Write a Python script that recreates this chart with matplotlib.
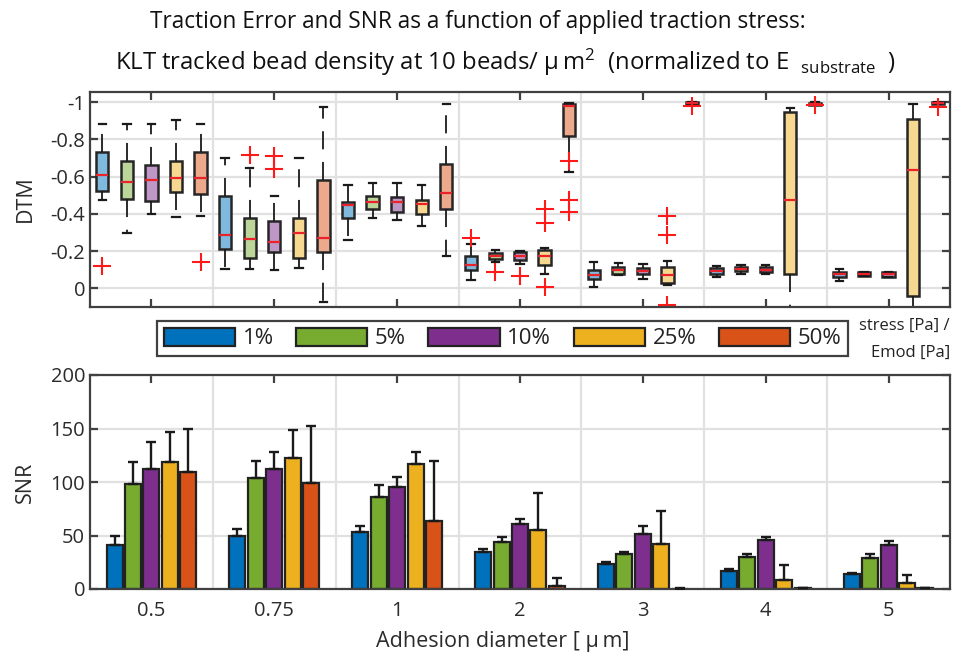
import matplotlib
matplotlib.use('Agg')
import matplotlib.pyplot as plt
import numpy as np
from matplotlib.patches import Patch

FONT = 'Open Sans'
plt.rcParams['font.family'] = [FONT, 'DejaVu Sans']
plt.rcParams['mathtext.fontset'] = 'custom'
plt.rcParams['mathtext.rm'] = FONT
plt.rcParams['mathtext.default'] = 'regular'

# ---------------- data ----------------
groups = ['0.5', '0.75', '1', '2', '3', '4', '5']
series = ['1%', '5%', '10%', '25%', '50%']
colors = ['#0072BD', '#77AC30', '#7E2F8E', '#EDB120', '#D95319']

# DTM box statistics, rows = adhesion diameter groups, cols = series
# (values as displayed on the reversed axis)
whisk_top = [[-0.884, -0.884, -0.884, -0.903, -0.880],
             [-0.699, -0.645, -0.495, -0.699, -0.971],
             [-0.557, -0.563, -0.563, -0.554, -0.987],
             [-0.240, -0.208, -0.203, -0.217, -0.993],
             [-0.140, -0.138, -0.131, -0.149, -1.000],
             [-0.118, -0.124, -0.124, -0.968, -1.000],
             [-0.102, -0.090, -0.088, -0.987, -1.000]]
box_top = [[-0.731, -0.681, -0.663, -0.686, -0.731],
           [-0.495, -0.376, -0.360, -0.380, -0.584],
           [-0.466, -0.495, -0.489, -0.475, -0.665],
           [-0.176, -0.190, -0.194, -0.206, -0.989],
           [-0.100, -0.117, -0.110, -0.117, -0.998],
           [-0.108, -0.117, -0.113, -0.946, -0.997],
           [-0.090, -0.088, -0.086, -0.909, -0.999]]
median = [[-0.606, -0.573, -0.579, -0.595, -0.595],
          [-0.289, -0.267, -0.251, -0.299, -0.272],
          [-0.446, -0.466, -0.462, -0.452, -0.514],
          [-0.124, -0.176, -0.176, -0.176, -0.978],
          [-0.074, -0.099, -0.094, -0.074, -0.993],
          [-0.093, -0.104, -0.100, -0.477, -0.990],
          [-0.075, -0.079, -0.075, -0.633, -0.996]]
box_bot = [[-0.523, -0.480, -0.470, -0.516, -0.509],
           [-0.210, -0.161, -0.197, -0.165, -0.197],
           [-0.380, -0.425, -0.409, -0.400, -0.427],
           [-0.099, -0.158, -0.153, -0.127, -0.817],
           [-0.050, -0.075, -0.075, -0.027, -0.988],
           [-0.075, -0.091, -0.086, -0.077, -0.986],
           [-0.060, -0.067, -0.062, 0.043, -0.990]]
whisk_bot = [[-0.477, -0.297, -0.398, -0.385, -0.391],
             [-0.102, -0.102, -0.097, -0.111, 0.072],
             [-0.262, -0.380, -0.369, -0.337, -0.176],
             [-0.047, -0.140, -0.131, -0.077, -0.627],
             [-0.009, -0.072, -0.050, -0.020, -0.986],
             [-0.059, -0.079, -0.075, 0.120, -0.984],
             [-0.041, -0.065, -0.060, 0.120, -0.990]]
outliers = [[[-0.12], [], [], [], [-0.14]],
            [[], [-0.717], [-0.71, -0.642], [], []],
            [[], [], [], [], []],
            [[-0.27], [-0.086], [-0.067], [-0.425, -0.351, -0.005], [-0.681, -0.473, -0.409]],
            [[], [], [], [-0.391, -0.285, 0.088], [-0.978]],
            [[], [], [], [], [-0.982]],
            [[], [], [], [], [-0.973]]]

# SNR bars: mean and upper error
snr = [[41, 98, 112, 119, 109],
       [50, 104, 112, 122, 99],
       [53, 86, 95, 117, 64],
       [35, 44, 61, 55, 3],
       [23.4, 32.7, 51, 42, 0.4],
       [17, 30, 46, 8.4, 0.5],
       [13.7, 29.3, 41.4, 5.6, 0.5]]
snr_err = [[9, 21, 25, 28, 41],
           [6, 16, 16, 27, 53],
           [6, 11, 10, 11, 56],
           [2, 5, 4, 35, 7],
           [1.6, 2.3, 8, 31, 0.3],
           [1.7, 3, 3, 14, 0.3],
           [1.3, 3, 3.5, 7.4, 0.5]]

dtm_ticks = [-1, -0.8, -0.6, -0.4, -0.2, 0]
dtm_ticklabels = ['-1', '-0.8', '-0.6', '-0.4', '-0.2', '0']
snr_ticks = [0, 50, 100, 150, 200]

# ---------------- style ----------------
SPINE = '#404040'
GRID = '#e1e1e1'
EDGE = '#262626'
RED = '#e8232a'
TICK_FS = 14.5
LABEL_FS = 15.5
TITLE_FS = 16.3


def light(c, a=0.5):
    c = np.array(matplotlib.colors.to_rgb(c))
    return tuple(c * a + (1 - a))


def style_axes(ax):
    ax.set_axisbelow(True)
    for s in ax.spines.values():
        s.set_color(SPINE)
        s.set_linewidth(1.6)
    ax.set_xlim(0.5, len(groups) + 0.5)
    ax.set_xticks(np.arange(1, len(groups) + 1))
    ax.set_xticks(np.arange(1.5, len(groups), 1.0), minor=True)
    ax.grid(False)
    ax.grid(True, which='minor', axis='x', color=GRID, lw=1.6)
    ax.grid(True, which='major', axis='y', color=GRID, lw=1.6)
    ax.tick_params(which='major', direction='in', length=6, width=1.6,
                   color=SPINE, top=True, right=True, labelsize=TICK_FS,
                   labelcolor='#2b2b2b')
    ax.tick_params(which='minor', length=0)


fig = plt.figure(figsize=(9.57, 6.58), dpi=100)
W, H = 957.0, 658.0
L, R = 90, 950
ax1 = fig.add_axes([L / W, 1 - 307 / H, (R - L) / W, (307 - 92) / H])
ax2 = fig.add_axes([L / W, 1 - 589 / H, (R - L) / W, (589 - 375) / H])

# ---------------- top: boxplots ----------------
style_axes(ax1)
box_offsets = [-0.4, -0.2, 0.0, 0.2, 0.4]
for gi in range(len(groups)):
    for si in range(len(series)):
        stats = [dict(med=median[gi][si], q1=box_top[gi][si], q3=box_bot[gi][si],
                      whislo=whisk_top[gi][si], whishi=whisk_bot[gi][si],
                      fliers=outliers[gi][si])]
        ax1.bxp(stats, positions=[gi + 1 + box_offsets[si]], widths=0.1,
                capwidths=0.06, patch_artist=True, manage_ticks=False,
                boxprops=dict(facecolor=light(colors[si]), edgecolor=EDGE, lw=1.8),
                medianprops=dict(color=RED, lw=1.6),
                whiskerprops=dict(color='#1a1a1a', lw=1.3, linestyle=(0, (10, 7))),
                capprops=dict(color='#1a1a1a', lw=1.6),
                flierprops=dict(marker='+', markersize=13, markeredgewidth=1.5,
                                markeredgecolor='#ff1a1a', linestyle='none'))
ax1.set_ylim(0.10, -1.054)
ax1.set_yticks(dtm_ticks)
ax1.set_yticklabels(dtm_ticklabels)
ax1.set_xticklabels([])

# ---------------- bottom: bars ----------------
style_axes(ax2)
bar_offsets = [-0.3, -0.15, 0.0, 0.15, 0.3]
xg = np.arange(1, len(groups) + 1)
snr_arr = np.array(snr)
err_arr = np.array(snr_err)
for si in range(len(series)):
    xs = xg + bar_offsets[si]
    ax2.bar(xs, snr_arr[:, si], width=0.13, color=colors[si],
            edgecolor='#222222', linewidth=1.6, zorder=2)
    ax2.errorbar(xs, snr_arr[:, si], yerr=[np.zeros(len(groups)), err_arr[:, si]],
                 fmt='none', ecolor='#1a1a1a', elinewidth=1.7, capsize=3.3,
                 capthick=1.7, zorder=3)
ax2.set_ylim(0, 200)
ax2.set_yticks(snr_ticks)
ax2.set_xticklabels(groups)
ax2.tick_params(axis='x', pad=9)

# ---------------- labels / titles ----------------
fig.text(25 / W, 1 - 199 / H, 'DTM', rotation=90, ha='center', va='center',
         fontsize=LABEL_FS, color='#2b2b2b')
fig.text(25 / W, 1 - 482 / H, 'SNR', rotation=90, ha='center', va='center',
         fontsize=LABEL_FS, color='#2b2b2b')
fig.text(503 / W, 1 - 641 / H, 'Adhesion diameter [ \u03bc\u2009m]', ha='center',
         va='center', fontsize=LABEL_FS, color='#2b2b2b')
fig.text(478 / W, 1 - 22 / H,
         'Traction Error and SNR as a function of applied traction stress:',
         ha='center', va='center', fontsize=TITLE_FS, color='#111111')
fig.text(505 / W, 1 - 62 / H,
         'KLT tracked bead density at 10 beads/ \u03bc\u2009m$^2$  (normalized to E  $_{substrate}$  )',
         ha='center', va='center', fontsize=17.2, color='#111111')

handles = [Patch(facecolor=c, edgecolor='#222222', lw=1.6) for c in colors]
fig.legend(handles, series, loc='center', ncol=5, mode='expand',
           bbox_to_anchor=(157 / W, 1 - 357 / H, 691 / W, 37 / H),
           borderaxespad=0,
           fontsize=16, handlelength=3.2, handleheight=0.9, handletextpad=0.35,
           frameon=True, fancybox=False, edgecolor=SPINE, framealpha=1,
           borderpad=0.3, columnspacing=1.0, labelcolor='#222222')
leg = fig.legends[0]
leg.get_frame().set_linewidth(1.6)

fig.text(950 / W, 1 - 326 / H, 'stress [Pa] /', ha='right', va='center',
         fontsize=12, color='#222222')
fig.text(950 / W, 1 - 353 / H, 'Emod [Pa]', ha='right', va='center',
         fontsize=12, color='#222222')

fig.savefig('out.png', dpi=100)
